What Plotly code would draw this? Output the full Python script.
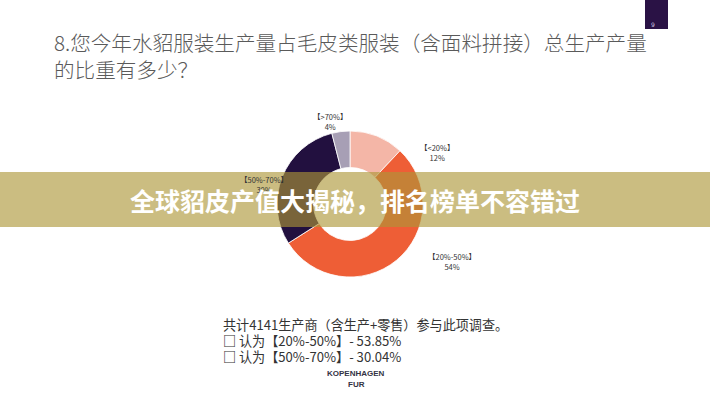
import plotly.graph_objects as go

W, H = 710, 400

categories = ["【<20%】", "【20%-50%】", "【50%-70%】", "【>70%】"]
values = [12, 54, 30, 4]
colors = ["#f4b6a7", "#ee5e36", "#22103f", "#a79fb5"]

title_lines = ["8.您今年水貂服装生产量占毛皮类服装（含面料拼接）总生产产量", "的比重有多少？"]
banner_text = "全球貂皮产值大揭秘，排名榜单不容错过"
note_lines = ["共计4141生产商（含生产+零售）参与此项调查。",
              "<b>□</b> 认为【20%-50%】- 53.85%",
              "<b>□</b> 认为【50%-70%】- 30.04%"]
brand_lines = ["KOPENHAGEN", "FUR"]
page_no = "9"

# label anchor positions in pixels (centre of the two-line label)
label_pos = [(437, 152), (452, 261), (264, 184), (330, 121)]


def px(x):
    return x / W


def py(y):
    return 1 - y / H


cx, cy, r = 350, 204, 73

fig = go.Figure()
fig.add_trace(go.Pie(
    labels=categories, values=values, hole=0.5, sort=False,
    direction="clockwise", rotation=0,
    marker=dict(colors=colors, line=dict(color="white", width=0.8)),
    textinfo="none", hoverinfo="label+percent", showlegend=False,
    domain=dict(x=[px(cx - r), px(cx + r)], y=[py(cy + r), py(cy - r)]),
))

ann = []
font_cjk = "Noto Sans CJK SC"
# title
for i, line in enumerate(title_lines):
    ann.append(dict(x=px(52), y=py(42 + i * 27), xref="paper", yref="paper",
                    text=line, showarrow=False, xanchor="left", yanchor="middle",
                    font=dict(family=font_cjk, size=20.6, color="#5a5a5a", weight=300)))
# pie labels
tot = sum(values)
for (lx, ly), cat, v in zip(label_pos, categories, values):
    ann.append(dict(x=px(lx), y=py(ly), xref="paper", yref="paper",
                    text=f"{cat}<br>{round(v / tot * 100)}%", showarrow=False,
                    xanchor="center", yanchor="middle",
                    font=dict(family=font_cjk, size=7.5, color="#333333")))
# notes
for i, line in enumerate(note_lines):
    ann.append(dict(x=px(221), y=py(324 + i * 16), xref="paper", yref="paper",
                    text=line, showarrow=False, xanchor="left", yanchor="middle",
                    font=dict(family=font_cjk, size=13.1, color="#333333")))
for i, line in enumerate(brand_lines):
    ann.append(dict(x=px(356), y=py(373 + i * 11), xref="paper", yref="paper",
                    text=f"<b>{line}</b>", showarrow=False, xanchor="center", yanchor="middle",
                    font=dict(family="Liberation Sans", size=8, color="#333344")))
# page number
ann.append(dict(x=px(657), y=py(19), xref="paper", yref="paper", text=page_no,
                showarrow=False, font=dict(family="DejaVu Sans", size=6, color="#cfc8e0")))
# banner text
ann.append(dict(x=px(355), y=py(200), xref="paper", yref="paper",
                text=f"<b>{banner_text}</b>", showarrow=False,
                xanchor="center", yanchor="middle",
                font=dict(family=font_cjk, size=25, color="white")))

shapes = [
    dict(type="rect", xref="paper", yref="paper", x0=px(645), x1=px(668), y0=py(29), y1=py(0),
         fillcolor="#2a1245", line=dict(width=0), layer="above"),
    dict(type="rect", xref="paper", yref="paper", x0=0, x1=1, y0=py(227), y1=py(172),
         fillcolor="rgba(172,150,55,0.63)", line=dict(width=0), layer="above"),
]

fig.update_layout(
    width=W, height=H, margin=dict(l=0, r=0, t=0, b=0),
    paper_bgcolor="white", plot_bgcolor="white",
    annotations=ann, shapes=shapes,
)

fig.write_html("out.html", config={"displayModeBar": False},
               post_script="document.body.style.margin='0';document.body.style.overflow='hidden';")
